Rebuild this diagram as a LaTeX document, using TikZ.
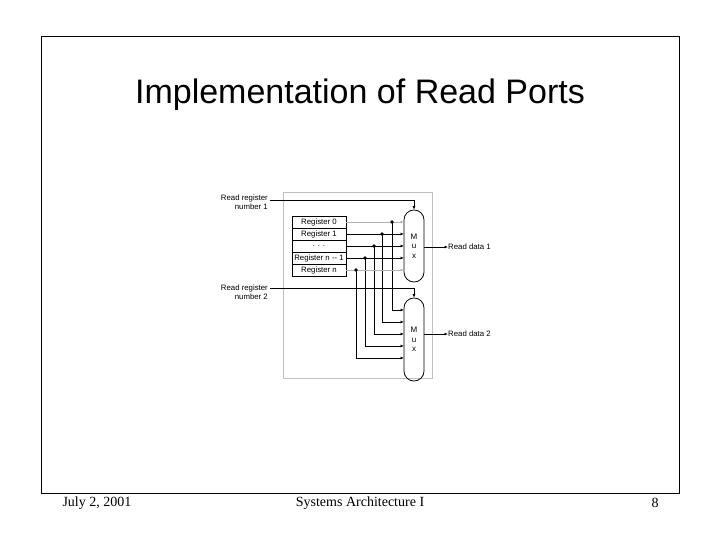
\documentclass[tikz,border=0pt]{standalone}
\usepackage{fontspec}
\setmainfont{Liberation Serif}
\newfontfamily\arial{Liberation Sans}
\usetikzlibrary{arrows.meta}
\begin{document}
\begin{tikzpicture}[x=1pt,y=-1pt,
  lbl/.style={font=\arial\fontsize{7.8}{9}\selectfont,inner sep=0pt},
  reg/.style={draw,thick,minimum width=54pt,minimum height=12pt,inner sep=0pt,font=\arial\fontsize{7.8}{8}\selectfont},
  mux/.style={draw,thick,rounded corners=9.9pt,minimum width=20pt,inner sep=0pt,font=\arial\fontsize{8}{9.5}\selectfont,align=center},
  wire/.style={thick,-{Latex[length=3.5pt,width=3pt]}},
  gwire/.style={thick,gray!60,-{Latex[length=3.5pt,width=3pt]}},
  dot/.style={circle,fill,inner sep=1.3pt}]
\useasboundingbox (0,0) rectangle (720,540);
\draw[thick] (41,36) rectangle (679,493);
\node[font=\arial\fontsize{34}{38}\selectfont] (title) at (360,95) {Implementation of Read Ports};
\node[font=\fontsize{14}{16}\selectfont,anchor=west] (date) at (59,503) {July 2, 2001};
\node[font=\fontsize{14}{16}\selectfont] (course) at (360,503) {Systems Architecture I};
\node[font=\fontsize{14}{16}\selectfont] (page) at (655,503) {8};
\draw[gray!50] (283,192) rectangle (432,378);
\node[reg] (r0) at (319,222) {Register 0};
\node[reg] (r1) at (319,234) {Register 1};
\node[reg] (rd) at (319,246) {. . .};
\node[reg] (rn1) at (319,258) {Register n -- 1};
\node[reg] (rn) at (319,270) {Register n};
\node[mux,minimum height=72pt] (m1) at (414,246) {M\\u\\x};
\node[mux,minimum height=83pt] (m2) at (414,339.5) {M\\u\\x};
\node[lbl,align=right,anchor=east] (rr1) at (268,202) {Read register\\number 1};
\node[lbl,align=right,anchor=east] (rr2) at (268,292) {Read register\\number 2};
\node[lbl,anchor=west] (rd1) at (448,247) {Read data 1};
\node[lbl,anchor=west] (rd2) at (448,334) {Read data 2};
\draw[wire] (270,200) -| (m1.north);
\draw[wire] (270,288) -| (m2.north);
\draw[wire] (m1.east |- 0,247) -- (rd1.west);
\draw[wire] (m2.east |- 0,334) -- (rd2.west);
\foreach \r/\y/\x/\yy/\c in {r0/222/392/310/gwire, r1/234/382/322/wire, rd/246/374/334/wire, rn1/258/365/346/wire, rn/270/356/358/gwire}{
  \draw[\c] (\r.east) -- (404,\y);
  \node[dot] (d\r) at (\x,\y) {};
  \draw[wire] (d\r.center) |- (404,\yy);
}
\end{tikzpicture}
\end{document}
